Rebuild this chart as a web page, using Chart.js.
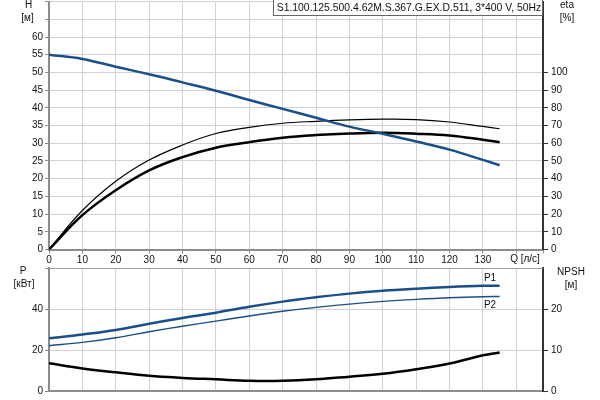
<!DOCTYPE html>
<html>
<head>
<meta charset="utf-8">
<script src="https://cdn.jsdelivr.net/npm/chart.js@4"></script>
<style>
  body { margin: 0; background: #fff; }
  #wrap { position: relative; width: 600px; height: 400px; overflow: hidden; }
  canvas { position: absolute; left: 0; }
</style>
</head>
<body>
<div id="wrap">
  <canvas id="top-chart" width="600" height="270" style="top:-2px"></canvas>
  <canvas id="bottom-chart" width="600" height="138" style="top:262px"></canvas>
</div>
<script>
// Curve data
const flow = [0, 10, 20, 30, 40, 50, 60, 70, 80, 90, 100, 110, 120, 130, 135];
const head = [55, 53.8, 51.6, 49.5, 47.2, 44.85, 42.2, 39.7, 37.2, 34.7, 32.7, 30.5, 28.2, 25.3, 23.8];
const etaPump = [0, 22, 38.5, 50.5, 59, 65.5, 69, 71.3, 72.4, 73.2, 73.6, 73.4, 72, 69.5, 68.2];
const etaTotal = [0, 19.4, 33.5, 44.7, 52.2, 57.5, 60.6, 63.1, 64.6, 65.5, 65.9, 65.4, 64.4, 62, 60.6];
const powerP1 = [25.7, 27.6, 29.8, 32.8, 35.6, 38.2, 41.1, 43.6, 45.7, 47.5, 48.9, 49.9, 50.7, 51.3, 51.4];
const powerP2 = [22.1, 23.7, 26, 28.9, 31.6, 34.1, 36.6, 38.9, 40.8, 42.4, 43.7, 44.7, 45.5, 46, 46.1];
const npsh = [6.75, 5.5, 4.55, 3.7, 3.2, 2.85, 2.5, 2.5, 2.85, 3.5, 4.2, 5.3, 6.7, 8.7, 9.4];

const pumpTitle = "S1.100.125.500.4.62M.S.367.G.EX.D.511, 3*400 V, 50Hz";

const BLUE = "#1a4f8a";
const GRID = "#d2d2d2";
const AXIS = "#8c8c8c";
const TEXT = "#111";
const FONT = "'Liberation Sans', Arial, sans-serif";

Chart.defaults.font.family = FONT;
Chart.defaults.font.size = 10;
Chart.defaults.color = TEXT;
Chart.defaults.animation = false;

function pts(ys) {
  return flow.map((x, i) => ({ x: x, y: ys[i] }));
}

function curve(data, color, width, axis) {
  return {
    data: pts(data),
    borderColor: color,
    borderWidth: width,
    pointRadius: 0,
    fill: false,
    tension: 0.4,
    yAxisID: axis,
  };
}

function fixWidth(w) { return (s) => { s.width = w; }; }
function fixHeight(h) { return (s) => { s.height = h; }; }

// hidden tick labels get a tiny font so they don't add layout padding
function tickFont(limit) {
  return (ctx) => ({ size: ctx.tick && ctx.tick.value > limit ? 1 : 10 });
}

// draws the axis captions and boxes
function textPlugin(items, offsetY, extra) {
  return {
    id: "captions",
    afterDraw(chart) {
      const c = chart.ctx;
      c.save();
      if (extra) extra(chart, c);
      c.fillStyle = TEXT;
      c.font = "10px " + FONT;
      c.textAlign = "center";
      c.textBaseline = "middle";
      items.forEach((t) => c.fillText(t[0], t[1], t[2] - offsetY));
      c.restore();
    },
  };
}

// Top chart: H and eta  (canvas sits 2px above the page top)
new Chart(document.getElementById("top-chart"), {
  type: "line",
  data: {
    datasets: [
      curve(head, BLUE, 2.5, "yH"),
      curve(etaPump, "#000", 1.2, "yEta"),
      curve(etaTotal, "#000", 2.5, "yEta"),
    ],
  },
  options: {
    responsive: false,
    layout: { padding: 0 },
    plugins: { legend: { display: false }, tooltip: { enabled: false } },
    scales: {
      x: {
        type: "linear", position: "bottom", min: 0, max: 148,
        ticks: { stepSize: 10, autoSkip: false, maxRotation: 0, padding: 1,
          callback: (v) => (v <= 130 ? v : "") },
        grid: { color: GRID, tickLength: 4, tickColor: AXIS },
        border: { color: AXIS, width: 2 },
        afterFit: fixHeight(18.5),
      },
      yH: {
        position: "left", min: 0, max: 70,
        ticks: { stepSize: 5, padding: 2, font: tickFont(60),
          callback: (v) => (v <= 60 ? v : "") },
        grid: { color: GRID, tickLength: 4, tickColor: AXIS },
        border: { color: AXIS, width: 2 },
        afterFit: fixWidth(49),
      },
      yEta: {
        position: "right", min: 0, max: 140,
        ticks: { stepSize: 10, padding: 3, font: tickFont(100),
          callback: (v) => (v <= 100 ? v : "") },
        grid: { drawOnChartArea: false, tickLength: 5,
          tickColor: (ctx) => (ctx.tick && ctx.tick.value > 100 ? "rgba(0,0,0,0)" : "#333") },
        border: { color: "#333", width: 2 },
        afterFit: fixWidth(57),
      },
    },
  },
  plugins: [textPlugin([
    ["H", 28.5, 5], ["[м]", 27.5, 18],
    ["eta", 567, 5], ["[%]", 567, 18],
    ["Q [л/с]", 525, 259.5],
  ], -2, (chart, c) => {
    c.fillStyle = "#fff";
    c.strokeStyle = "#666";
    c.lineWidth = 1;
    c.fillRect(273.5, 1, 269, 16.5);
    c.strokeRect(273.5, 1, 269, 16.5);
    c.fillStyle = TEXT;
    c.font = "10.4px " + FONT;
    c.textAlign = "center";
    c.textBaseline = "middle";
    c.fillText(pumpTitle, 409, 10);
  })],
});

// Bottom chart: P1, P2 and NPSH
new Chart(document.getElementById("bottom-chart"), {
  type: "line",
  data: {
    datasets: [
      curve(powerP1, BLUE, 2.5, "yP"),
      curve(powerP2, BLUE, 1.4, "yP"),
      curve(npsh, "#000", 2.5, "yN"),
    ],
  },
  options: {
    responsive: false,
    layout: { padding: { top: 6 } },
    plugins: { legend: { display: false }, tooltip: { enabled: false } },
    scales: {
      x: {
        type: "linear", position: "bottom", min: 0, max: 148,
        ticks: { display: false, stepSize: 10 },
        grid: { color: GRID, drawTicks: false },
        border: { color: AXIS, width: 2 },
        afterFit: fixHeight(9),
      },
      yP: {
        position: "left", min: 0, max: 60,
        ticks: { stepSize: 20, padding: 2, font: tickFont(40),
          callback: (v) => (v < 60 ? v : "") },
        grid: { color: GRID, tickLength: 4, tickColor: AXIS },
        border: { color: AXIS, width: 2 },
        afterFit: fixWidth(49),
      },
      yN: {
        position: "right", min: 0, max: 30,
        ticks: { stepSize: 10, padding: 3, font: tickFont(20),
          callback: (v) => (v < 30 ? v : "") },
        grid: { drawOnChartArea: false, tickLength: 5,
          tickColor: (ctx) => (ctx.tick && ctx.tick.value >= 30 ? "rgba(0,0,0,0)" : "#333") },
        border: { color: "#333", width: 2 },
        afterFit: fixWidth(57),
      },
    },
  },
  plugins: [textPlugin([
    ["P", 23, 271], ["[кВт]", 24, 284],
    ["NPSH", 571, 272], ["[м]", 571, 285],
    ["P1", 490, 278], ["P2", 490, 305],
  ], 262, (chart, c) => {
    const a = chart.chartArea;
    c.strokeStyle = "#a0a0a0";
    c.lineWidth = 1;
    c.beginPath();
    c.moveTo(a.left, a.top + 0.5);
    c.lineTo(a.right, a.top + 0.5);
    c.stroke();
  })],
});
</script>
</body>
</html>
